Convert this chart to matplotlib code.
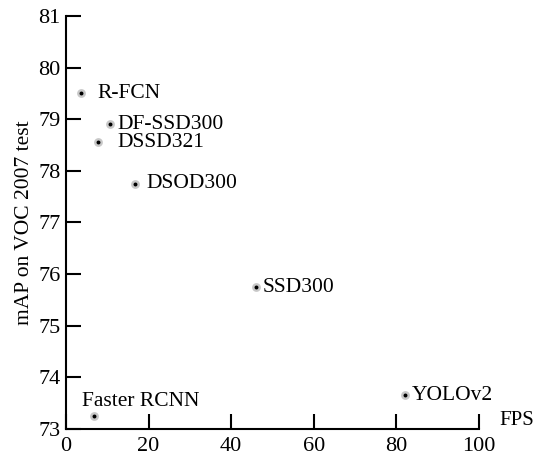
import matplotlib
matplotlib.use('Agg')
import matplotlib.pyplot as plt

# detector speed vs accuracy
names = ['R-FCN', 'DF-SSD300', 'DSSD321', 'DSOD300', 'SSD300', 'YOLOv2', 'Faster RCNN']
fps = [3.6, 10.7, 7.7, 16.7, 46, 82, 6.8]
mAP = [79.5, 78.9, 78.55, 77.75, 75.75, 73.65, 73.25]
# label offsets in points
offsets = [(12, 0), (5, 0), (14, 0), (8, 0), (5, 0), (5, 0), (-9, 4)]

plt.rcParams['font.family'] = ['Liberation Serif', 'DejaVu Serif']

fig = plt.figure(figsize=(5.43, 4.55), dpi=100)
ax = fig.add_axes([0.1215, 0.057, 0.7605, 0.908])

ax.scatter(fps, mAP, s=40, color='#c8c8c8', zorder=2, linewidths=0)
ax.scatter(fps, mAP, s=8, color='black', zorder=3, linewidths=0)

for n, x, y, off in zip(names, fps, mAP, offsets):
    va = 'bottom' if off[1] > 0 else 'center'
    ax.annotate(n, (x, y), xytext=off, textcoords='offset points',
                ha='left', va=va, fontsize=15.5)

ax.set_xlim(0, 100)
ax.set_ylim(73, 81)
ax.set_xticks([0, 20, 40, 60, 80, 100])
ax.set_yticks(range(73, 82))
ax.spines['top'].set_visible(False)
ax.spines['right'].set_visible(False)
for s in ['left', 'bottom']:
    ax.spines[s].set_linewidth(1.5)
ax.tick_params(direction='in', length=11, width=1.5, labelsize=16, pad=4)
ax.tick_params(axis='x', pad=6)
ax.set_ylabel('mAP on VOC 2007 test', fontsize=15.5, labelpad=3)
ax.text(1.05, 0.02, 'FPS', transform=ax.transAxes, fontsize=15, ha='left', va='center')
ax.patch.set_visible(False)

fig.savefig('out.png', dpi=100)
